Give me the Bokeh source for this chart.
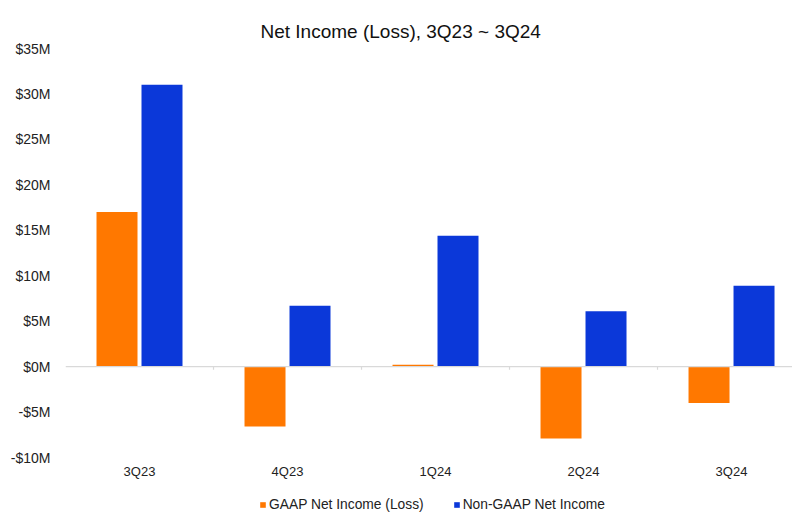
import numpy as np
from bokeh.plotting import figure
from bokeh.layouts import column
from bokeh.models import Range1d, FixedTicker, Legend, LegendItem, Span
from bokeh.embed import file_html
from bokeh.resources import INLINE

quarters = ["3Q23", "4Q23", "1Q24", "2Q24", "3Q24"]
gaap = [17.0, -6.6, 0.2, -7.9, -4.0]          # $M
non_gaap = [31.0, 6.7, 14.4, 6.1, 8.9]        # $M
y_ticks = [-10, -5, 0, 5, 10, 15, 20, 25, 30, 35]
series_names = ["GAAP Net Income (Loss)", "Non-GAAP Net Income"]

ORANGE = "#FF7800"
BLUE = "#0B38D9"
FONT = "Liberation Sans"

n = len(quarters)
centers = np.arange(n) + 0.5
bw = 0.277
off = 0.152

p = figure(width=792, height=482, output_backend="svg", toolbar_location=None,
           x_range=Range1d(0, 4.912), y_range=Range1d(-10, 35),
           min_border_left=65, min_border_right=0, min_border_top=48, min_border_bottom=25)
p.outline_line_color = None
p.xgrid.grid_line_color = None
p.ygrid.grid_line_color = None

p.title.text = "Net Income (Loss), 3Q23 ~ 3Q24"
p.title.align = "left"
p.title.offset = 195
p.title.text_font = FONT
p.title.text_font_size = "19px"
p.title.text_font_style = "normal"
p.title.text_color = "#111111"
p.title.standoff = 13

p.vbar(x=centers - off, top=gaap, bottom=0, width=bw, fill_color=ORANGE, line_color=None)
p.vbar(x=centers + off, top=non_gaap, bottom=0, width=bw, fill_color=BLUE, line_color=None)

p.add_layout(Span(location=0, dimension="width", line_color="#d9d9d9", line_width=1.2))
bounds = np.arange(1, n)
p.segment(x0=bounds, x1=bounds, y0=np.zeros(len(bounds)), y1=np.full(len(bounds), -0.35),
          line_color="#d9d9d9", line_width=1.2)

# y axis
p.yaxis.ticker = FixedTicker(ticks=y_ticks)
p.yaxis.major_label_overrides = {t: ("-$%dM" % abs(t) if t < 0 else "$%dM" % t) for t in y_ticks}
p.yaxis.axis_line_color = None
p.yaxis.major_tick_line_color = None
p.yaxis.minor_tick_line_color = None
p.yaxis.major_tick_out = 0
p.yaxis.major_tick_in = 0
p.yaxis.major_label_standoff = 15
p.yaxis.major_label_text_font = FONT
p.yaxis.major_label_text_font_size = "14px"
p.yaxis.major_label_text_color = "#222222"

# x axis
p.xaxis.ticker = FixedTicker(ticks=list(centers))
p.xaxis.major_label_overrides = {float(c): q for c, q in zip(centers, quarters)}
p.xaxis.axis_line_color = None
p.xaxis.major_tick_line_color = None
p.xaxis.minor_tick_line_color = None
p.xaxis.major_tick_out = 0
p.xaxis.major_tick_in = 0
p.xaxis.major_label_standoff = 6
p.xaxis.major_label_text_font = FONT
p.xaxis.major_label_text_font_size = "13px"
p.xaxis.major_label_text_color = "#222222"

# legend strip below the chart (its series renderers sit outside its visible range)
lg = figure(width=792, height=30, output_backend="svg", toolbar_location=None,
            x_range=Range1d(0, 4.912), y_range=Range1d(1000, 1001),
            x_axis_type=None, y_axis_type=None, min_border=0)
lg.outline_line_color = None
lg.xgrid.grid_line_color = None
lg.ygrid.grid_line_color = None
k1 = lg.vbar(x=centers - off, top=gaap, bottom=0, width=bw, fill_color=ORANGE, line_color=None)
k2 = lg.vbar(x=centers + off, top=non_gaap, bottom=0, width=bw, fill_color=BLUE, line_color=None)
legend = Legend(items=[LegendItem(label=series_names[0], renderers=[k1], index=0),
                       LegendItem(label=series_names[1], renderers=[k2], index=0)],
                orientation="horizontal", location=(194, 0),
                glyph_width=7, glyph_height=7, label_standoff=3, spacing=29,
                padding=2, margin=0, border_line_color=None, background_fill_alpha=0,
                label_text_font=FONT, label_text_font_size="13.8px", label_text_color="#222222")
lg.add_layout(legend, "center")

layout = column(p, lg, spacing=0)
open("out.html", "w").write(file_html(layout, INLINE))
